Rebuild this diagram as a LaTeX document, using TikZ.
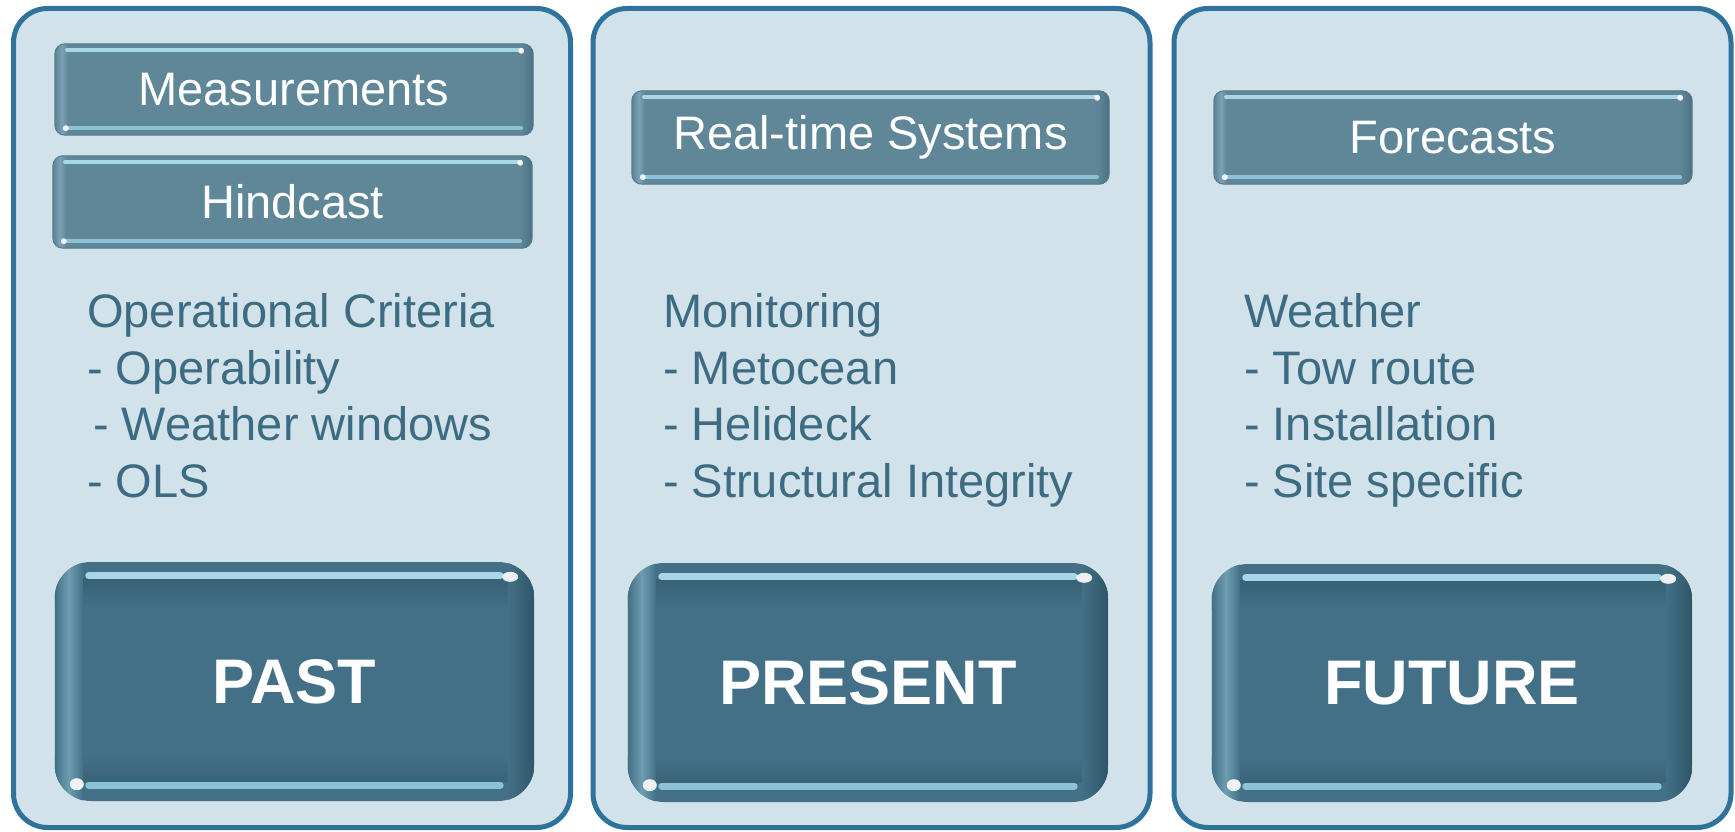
\documentclass[tikz,border=0pt]{standalone}
\usepackage{fontspec}
\setmainfont{Liberation Sans}
\usetikzlibrary{calc}
\definecolor{panelfill}{HTML}{D2E2EA}
\definecolor{panelborder}{HTML}{2F739C}
\definecolor{smallfill}{HTML}{5F8798}
\definecolor{smalledge}{HTML}{53798B}
\definecolor{bigfill}{HTML}{437086}
\definecolor{listtext}{HTML}{3D6C82}
\definecolor{hlight}{HTML}{A8D6E8}
\definecolor{hlightb}{HTML}{8CC2D7}
\definecolor{leftlight}{HTML}{6E9DB2}
\definecolor{rightdark}{HTML}{2F5667}
\definecolor{smallleft}{HTML}{7AA2B4}
\definecolor{smallright}{HTML}{4C7082}
\newcommand{\SmallKey}[6]{%
  \node[smallkey, minimum width=#4pt, minimum height=#5pt] (#1) at (#2,#3) {};
  \begin{scope}
    \clip[rounded corners=10pt] (#1.north west) rectangle (#1.south east);
    \shade[left color=smallfill, right color=smallfill, middle color=smallleft]
      ($(#1.north west)+(1,0)$) rectangle ($(#1.south west)+(13,0)$);
    \shade[left color=smallfill, right color=smallright]
      ($(#1.north east)+(-12,0)$) rectangle (#1.south east);
    \draw[line width=3.5pt, hlight, line cap=round] ($(#1.north west)+(12,6)$) -- ($(#1.north east)+(-12,6)$);
    \draw[line width=3.5pt, hlightb, line cap=round] ($(#1.south west)+(12,-7)$) -- ($(#1.south east)+(-12,-7)$);
    \fill[white, opacity=.85] ($(#1.north east)+(-12,7)$) circle (3pt);
    \fill[white, opacity=.85] ($(#1.south west)+(11,-7)$) circle (3pt);
  \end{scope}
  \draw[smalledge, line width=1pt, rounded corners=10pt] (#1.north west) rectangle (#1.south east);
  \node[smalllabel] (#1-label) at (#1.center) {#6};
}
\newcommand{\BigKey}[6]{%
  \node[bigkey, minimum width=#4pt, minimum height=#5pt] (#1) at (#2,#3) {};
  \begin{scope}
    \clip[rounded corners=36pt] (#1.north west) rectangle (#1.south east);
    \shade[top color=rightdark!55!bigfill, bottom color=bigfill]
      ($(#1.north west)+(0,17)$) rectangle ($(#1.north east)+(0,46)$);
    \shade[top color=bigfill, bottom color=rightdark!45!bigfill]
      ($(#1.south west)+(0,-46)$) rectangle ($(#1.south east)+(0,-20)$);
    \shade[left color=bigfill, right color=bigfill, middle color=leftlight]
      (#1.north west) rectangle ($(#1.south west)+(28,0)$);
    \shade[left color=bigfill, right color=rightdark]
      ($(#1.north east)+(-26,0)$) rectangle (#1.south east);
    \draw[line width=7pt, hlight, line cap=round] ($(#1.north west)+(34,14)$) -- ($(#1.north east)+(-34,14)$);
    \draw[line width=7pt, hlightb, line cap=round] ($(#1.south west)+(34,-16)$) -- ($(#1.south east)+(-34,-16)$);
    \fill[white, opacity=.9] ($(#1.north east)+(-24,15)$) ellipse (8pt and 5pt);
    \fill[white, opacity=.9] ($(#1.south west)+(22,-17)$) ellipse (7pt and 6pt);
  \end{scope}
  \node[biglabel] (#1-label) at (#1.center) {#6};
}
\begin{document}
\begin{tikzpicture}[x=1pt, y=-1pt,
  panel/.style={draw=panelborder, line width=5pt, fill=panelfill, rounded corners=34pt,
    minimum width=557pt, minimum height=819pt, inner sep=0pt},
  smallkey/.style={fill=smallfill, rounded corners=10pt, inner sep=0pt},
  smalllabel/.style={inner sep=0pt, text=white, font=\fontsize{47}{56}\selectfont},
  bigkey/.style={fill=bigfill, rounded corners=36pt, inner sep=0pt},
  biglabel/.style={inner sep=0pt, text=white, font=\fontsize{63}{75}\selectfont\bfseries},
  listtxt/.style={anchor=base west, inner sep=0pt, text=listtext,
    font=\fontsize{47}{56}\selectfont}]
\useasboundingbox (0,0) rectangle (1735,832);
\fill[white] (0,0) rectangle (1735,832);

% panels
\node[panel] (pastpanel) at (292,418) {};
\node[panel] (presentpanel) at (871.5,418) {};
\node[panel] (futurepanel) at (1452.5,418) {};

% small title boxes
\SmallKey{meas}{294}{89.5}{478}{91}{Measurements}
\SmallKey{hind}{292.5}{202}{479}{92}{Hindcast}
\SmallKey{realtime}{870.5}{137.5}{477}{93}{Real-time Systems}
\SmallKey{fcast}{1453}{137.5}{478}{93}{Forecasts}

% lists
\node[listtxt] (p1a) at (87,327) {Operational Criteria};
\node[listtxt] (p1b) at (87,384) {- Operability};
\node[listtxt] (p1c) at (93,440) {- Weather windows};
\node[listtxt] (p1d) at (87,497) {- OLS};

\node[listtxt] (p2a) at (663,327) {Monitoring};
\node[listtxt] (p2b) at (663,384) {- Metocean};
\node[listtxt] (p2c) at (663,440) {- Helideck};
\node[listtxt] (p2d) at (663,497) {- Structural Integrity};

\node[listtxt] (p3a) at (1244,327) {Weather};
\node[listtxt] (p3b) at (1244,384) {- Tow route};
\node[listtxt] (p3c) at (1244,440) {- Installation};
\node[listtxt] (p3d) at (1244,497) {- Site specific};

% big keys
\BigKey{past}{294.5}{681.5}{479}{239}{PAST}
\BigKey{present}{868}{682.5}{480}{239}{PRESENT}
\BigKey{future}{1452}{683}{480}{238}{FUTURE}
\end{tikzpicture}
\end{document}
